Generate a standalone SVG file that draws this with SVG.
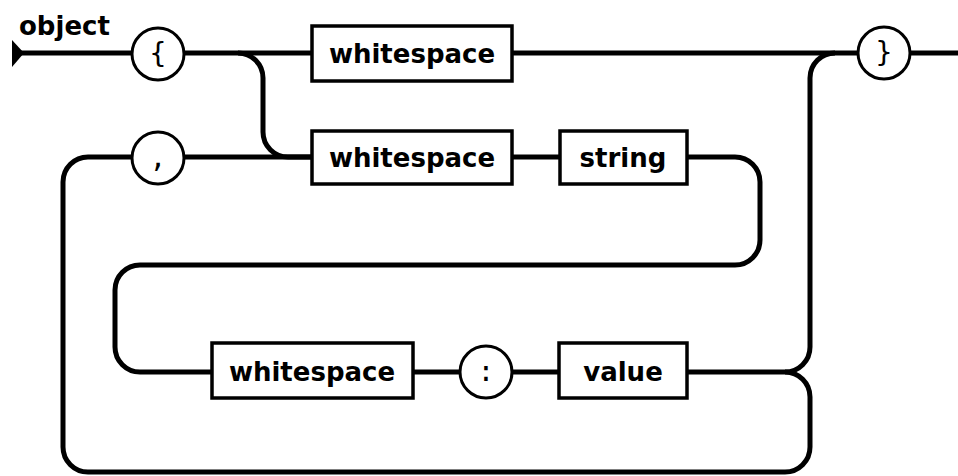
<svg xmlns="http://www.w3.org/2000/svg" width="958" height="476" viewBox="0 0 958 476">
<style>
.wire{fill:none;stroke:#000;stroke-width:5}
.box{fill:#fff;stroke:#000;stroke-width:3.5}
.term{fill:#fff;stroke:#000;stroke-width:3}
.lbl{font-family:"DejaVu Sans",sans-serif;font-weight:bold;font-size:26px;text-anchor:middle;fill:#000}
.sym{font-family:"DejaVu Sans Mono",monospace;font-size:28px;text-anchor:middle;fill:#000}
.title{font-family:"DejaVu Sans",sans-serif;font-weight:bold;font-size:26px;fill:#000}
</style>
<rect width="958" height="476" fill="#fff"/>
<text class="title" x="19" y="35">object</text>
<g id="connectors">
<polygon points="12,40 24,53 12,67" fill="#000"/>
<path class="wire" d="M14,53 H132 M184,53 H312 M512,53 H858 M910,53 H958"/>
<path class="wire" d="M238,53 A25,25 0 0 1 263,78 V132 A25,25 0 0 0 288,157 H312"/>
<path class="wire" d="M132,157 H88 A25,25 0 0 0 63,182 V447 A25,25 0 0 0 88,472 H785 A25,25 0 0 0 810,447 V397 A25,25 0 0 0 785,372"/>
<path class="wire" d="M184,157 H312 M512,157 H560"/>
<path class="wire" d="M687,157 H735 A25,25 0 0 1 760,182 V240 A25,25 0 0 1 735,265 H140 A25,25 0 0 0 115,290 V347 A25,25 0 0 0 140,372 H212"/>
<path class="wire" d="M413,372 H460 M512,372 H559"/>
<path class="wire" d="M687,372 H785 A25,25 0 0 0 810,347 V78 A25,25 0 0 1 835,53"/>
</g>
<g id="open-brace"><circle class="term" cx="158" cy="54" r="26"/><text class="sym" x="158" y="63">{</text></g>
<g id="ws1"><rect class="box" x="312" y="26" width="200" height="55"/><text class="lbl" x="412" y="63">whitespace</text></g>
<g id="close-brace"><circle class="term" cx="884" cy="53" r="26"/><text class="sym" x="884" y="62">}</text></g>
<g id="comma"><circle class="term" cx="158" cy="158" r="26"/><text class="sym" x="158" y="167">,</text></g>
<g id="ws2"><rect class="box" x="312" y="131" width="200" height="53"/><text class="lbl" x="412" y="167">whitespace</text></g>
<g id="string"><rect class="box" x="560" y="131" width="127" height="53"/><text class="lbl" x="623" y="167">string</text></g>
<g id="ws3"><rect class="box" x="212" y="343" width="201" height="55"/><text class="lbl" x="312" y="381">whitespace</text></g>
<g id="colon"><circle class="term" cx="486" cy="372" r="26"/><text class="sym" x="486" y="381">:</text></g>
<g id="value"><rect class="box" x="559" y="343" width="128" height="55"/><text class="lbl" x="623" y="381">value</text></g>
</svg>
